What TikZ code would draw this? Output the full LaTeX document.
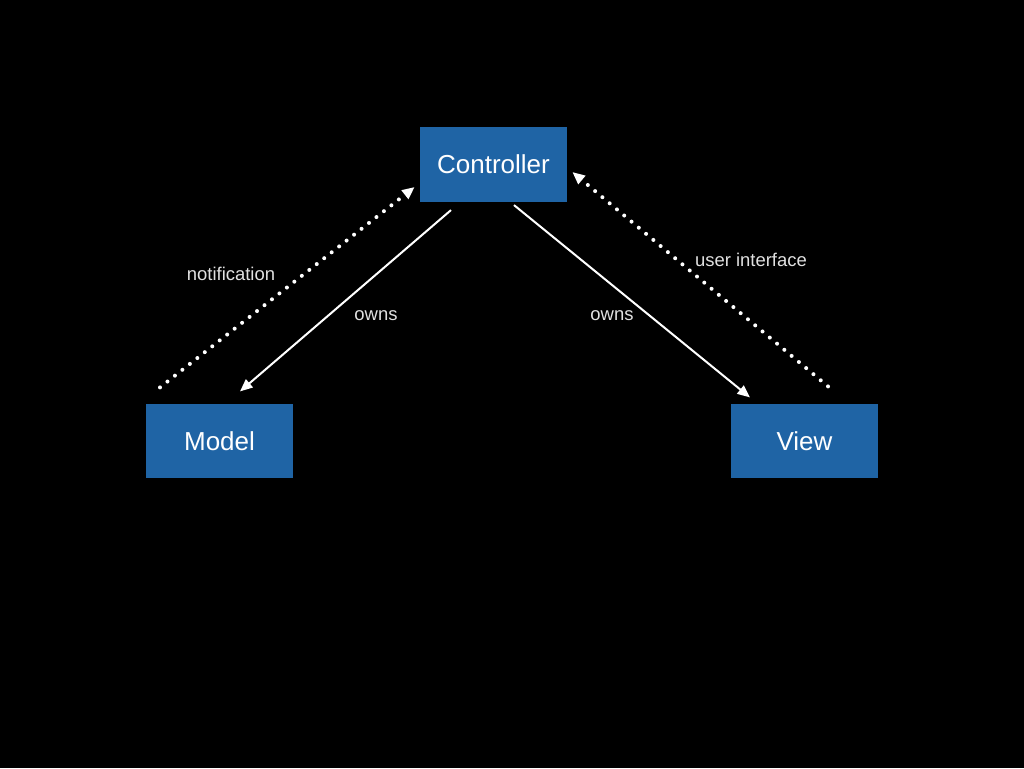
\documentclass[tikz,border=0pt]{standalone}
\usepackage{fontspec}
\setmainfont{Liberation Sans}
\usetikzlibrary{arrows.meta, positioning}
\definecolor{boxblue}{RGB}{31,100,165}
\definecolor{labelgray}{RGB}{225,225,225}

\begin{document}
\begin{tikzpicture}[x=0.02cm,y=-0.02cm,
    part/.style={fill=boxblue,text=white,minimum width=2.94cm,minimum height=1.49cm,inner sep=0pt,font=\fontsize{14.8}{17}\selectfont},
    owns/.style={draw=white,line width=0.04cm,-{Triangle[length=0.25cm,width=0.21cm]}},
    notify/.style={draw=white,line width=0.08cm,line cap=round,dash pattern=on 0pt off 0.19cm,-{Triangle[length=0.25cm,width=0.21cm,line cap=butt]}},
    tag/.style={text=labelgray,font=\fontsize{10.5}{12}\selectfont}]

      \fill[black] (0,0) rectangle (1024,768);

      \node[part] (ctrl)  at (493.5,164.5) {Controller};
      \node[part] (model) at (219.5,441)   {Model};
      \node[part] (view)  at (804.5,441)   {View};

      \draw[owns] ([shift={(-42.5,8)}]ctrl.south) -- ([shift={(20.5,-12)}]model.north);
      \draw[owns] ([shift={(20.5,3)}]ctrl.south) -- ([shift={(-54.5,-6)}]view.north);
      \draw[notify] ([shift={(-59.5,-16)}]model.north) -- ([shift={(-5,22.5)}]ctrl.west);
      \draw[notify] ([shift={(23.5,-17)}]view.north) -- ([shift={(5,7.5)}]ctrl.east);

      \node[tag] (ownsm) at (376,316) {owns};
      \node[tag] (ownsv) at (612,316) {owns};
      \node[tag] (note)  at (231,274) {notification};
      \node[tag] (ui)    at (751,260) {user interface};
    \end{tikzpicture}
\end{document}
